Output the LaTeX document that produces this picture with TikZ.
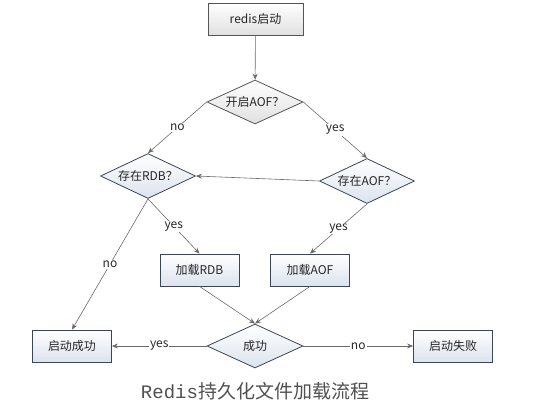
\documentclass[tikz,border=0pt]{standalone}
\usepackage{fontspec}
\usepackage{tikz}
\usetikzlibrary{shapes.geometric,arrows.meta}
\setmainfont{Noto Sans CJK SC}
\newfontfamily\cjk{Noto Sans CJK SC}
\newfontfamily\titlemono{Liberation Mono}
\definecolor{edgegray}{HTML}{6A6A6A}
\definecolor{txtgray}{HTML}{262626}
\definecolor{bluerim}{HTML}{3A4557}
\definecolor{bluefill}{HTML}{DCE3EE}
\definecolor{grayrim}{HTML}{555555}
\definecolor{grayfill}{HTML}{E0E0E0}
\definecolor{titlegray}{HTML}{505050}

\begin{document}
\begin{tikzpicture}[x=1pt, y=-1pt,
		font=\cjk\fontsize{12}{14}\selectfont, text=txtgray,
		procbox/.style={draw=bluerim, line width=0.8pt, top color=white, bottom color=bluefill,
			minimum width=79pt, minimum height=32pt, inner sep=2pt},
		askbox/.style={diamond, draw=bluerim, line width=0.8pt, top color=white, bottom color=bluefill,
			minimum width=95pt, minimum height=45pt, aspect=2.1, inner sep=0pt},
		arr/.style={draw=edgegray, line width=0.6pt, -{Stealth[length=6pt,width=5pt]}},
		lbl/.style={fill=white, inner sep=1pt}]
			\useasboundingbox (0,0) rectangle (547,417);
			\node[procbox, draw=grayrim, bottom color=grayfill, minimum width=95pt] (start) at (255.5,19) {redis启动};
			\node[askbox, draw=grayrim, bottom color=grayfill, minimum width=96pt, minimum height=44pt] (openaof) at (255,102) {开启AOF？};
			\node[askbox] (hasrdb) at (148,176) {存在RDB？};
			\node[askbox] (hasaof) at (367,181) {存在AOF？};
			\node[procbox] (loadrdb) at (199.5,270) {加载RDB};
			\node[procbox] (loadaof) at (310,270) {加载AOF};
			\node[askbox, minimum width=96pt, minimum height=44pt] (success) at (255,346) {成功};
			\node[procbox] (ok) at (72,346) {启动成功};
			\node[procbox] (fail) at (453,346) {启动失败};
			\draw[arr] (start) -- (openaof);
			\draw[arr] (openaof.west) -- node[lbl]{no} (hasrdb.north);
			\draw[arr] (openaof.east) -- node[lbl]{yes} (hasaof.north);
			\draw[arr] (hasaof.west) -- (hasrdb.east);
			\draw[arr] (hasrdb.south) -- node[lbl]{yes} (loadrdb.north);
			\draw[arr] (hasrdb.south) -- node[lbl]{no} (ok.north);
			\draw[arr] (hasaof.south) -- node[lbl]{yes} (loadaof.north);
			\draw[arr] (loadrdb.south) -- (success.north);
			\draw[arr] (loadaof.south) -- (success.north);
			\draw[arr] (success.west) -- node[lbl]{yes} (ok.east);
			\draw[arr] (success.east) -- node[lbl]{no} (fail.west);
			\node[text=titlegray, font=\fontsize{19}{22}\selectfont] (title) at (255,391) {{\titlemono Redis}{\cjk 持久化文件加载流程}};
			\end{tikzpicture}
\end{document}
